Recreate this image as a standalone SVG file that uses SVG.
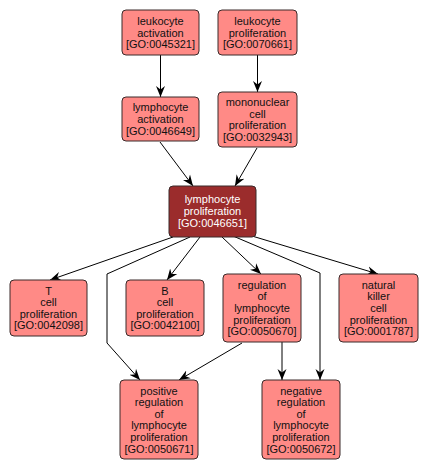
<svg xmlns="http://www.w3.org/2000/svg" width="427" height="470" viewBox="0 0 427 470">
<style>
.n rect{fill:#ff8a86;stroke:#3a2a2a;stroke-width:1}
.n text{font-family:"Liberation Sans",Arial,sans-serif;font-size:11px;fill:#111;text-anchor:middle}
.c rect{fill:#9b2c2c}
.c text{fill:#fff}
#edges path{fill:none;stroke:#000;stroke-width:1;marker-end:url(#ah)}
</style>
<defs>
<marker id="ah" markerUnits="userSpaceOnUse" markerWidth="12" markerHeight="10" viewBox="0 -5 12 10" refX="11" refY="0" orient="auto">
<path d="M0,-4.5 L11,0 L0,4.5 L3.5,0 z" fill="#000"/>
</marker>
</defs>
<rect width="427" height="470" fill="#fff"/>
<g id="edges">
<path d="M160.5,55 L160.5,97"/>
<path d="M257.5,55 L257.5,92"/>
<path d="M160,142 L193,186"/>
<path d="M257,148 L235,186"/>
<path d="M173,237 L50,280"/>
<path d="M200,237 L167,280"/>
<path d="M222,237 L261,274"/>
<path d="M252,236 L378,274"/>
<path d="M190,237 L107,274 L107,343 L140,380"/>
<path d="M233,236 L320,273 L320,380"/>
<path d="M242,343 L179,380"/>
<path d="M282,342 L282,380"/>
</g>
<g id="n1" class="n"><rect x="122" y="10" width="77" height="45" rx="4"/><text x="160.5" y="24.9">leukocyte</text><text x="160.5" y="36.5">activation</text><text x="160.5" y="48.1">[GO:0045321]</text></g>
<g id="n2" class="n"><rect x="218" y="10" width="79" height="45" rx="4"/><text x="257.5" y="24.9">leukocyte</text><text x="257.5" y="36.5">proliferation</text><text x="257.5" y="48.1">[GO:0070661]</text></g>
<g id="n3" class="n"><rect x="122" y="97" width="77" height="44" rx="4"/><text x="160.5" y="111.4">lymphocyte</text><text x="160.5" y="123">activation</text><text x="160.5" y="134.6">[GO:0046649]</text></g>
<g id="n4" class="n"><rect x="218" y="92" width="79" height="55" rx="4"/><text x="257.5" y="106.1">mononuclear</text><text x="257.5" y="117.7">cell</text><text x="257.5" y="129.3">proliferation</text><text x="257.5" y="140.9">[GO:0032943]</text></g>
<g id="n5" class="n c"><rect x="169" y="186" width="87" height="51" rx="4"/><text x="212.5" y="203.4">lymphocyte</text><text x="212.5" y="215.2">proliferation</text><text x="212.5" y="227">[GO:0046651]</text></g>
<g id="n6" class="n"><rect x="10" y="280" width="77" height="56" rx="4"/><text x="48.5" y="294.6">T</text><text x="48.5" y="306.2">cell</text><text x="48.5" y="317.8">proliferation</text><text x="48.5" y="329.4">[GO:0042098]</text></g>
<g id="n7" class="n"><rect x="126" y="280" width="78" height="56" rx="4"/><text x="165" y="294.6">B</text><text x="165" y="306.2">cell</text><text x="165" y="317.8">proliferation</text><text x="165" y="329.4">[GO:0042100]</text></g>
<g id="n8" class="n"><rect x="223" y="274" width="78" height="68" rx="4"/><text x="262" y="288.8">regulation</text><text x="262" y="300.4">of</text><text x="262" y="312">lymphocyte</text><text x="262" y="323.6">proliferation</text><text x="262" y="335.2">[GO:0050670]</text></g>
<g id="n9" class="n"><rect x="339" y="274" width="79" height="68" rx="4"/><text x="378.5" y="288.8">natural</text><text x="378.5" y="300.4">killer</text><text x="378.5" y="312">cell</text><text x="378.5" y="323.6">proliferation</text><text x="378.5" y="335.2">[GO:0001787]</text></g>
<g id="n10" class="n"><rect x="120" y="380" width="78" height="79" rx="4"/><text x="159" y="394.5">positive</text><text x="159" y="406.1">regulation</text><text x="159" y="417.7">of</text><text x="159" y="429.3">lymphocyte</text><text x="159" y="440.9">proliferation</text><text x="159" y="452.5">[GO:0050671]</text></g>
<g id="n11" class="n"><rect x="262" y="380" width="78" height="79" rx="4"/><text x="301" y="394.5">negative</text><text x="301" y="406.1">regulation</text><text x="301" y="417.7">of</text><text x="301" y="429.3">lymphocyte</text><text x="301" y="440.9">proliferation</text><text x="301" y="452.5">[GO:0050672]</text></g>
</svg>
